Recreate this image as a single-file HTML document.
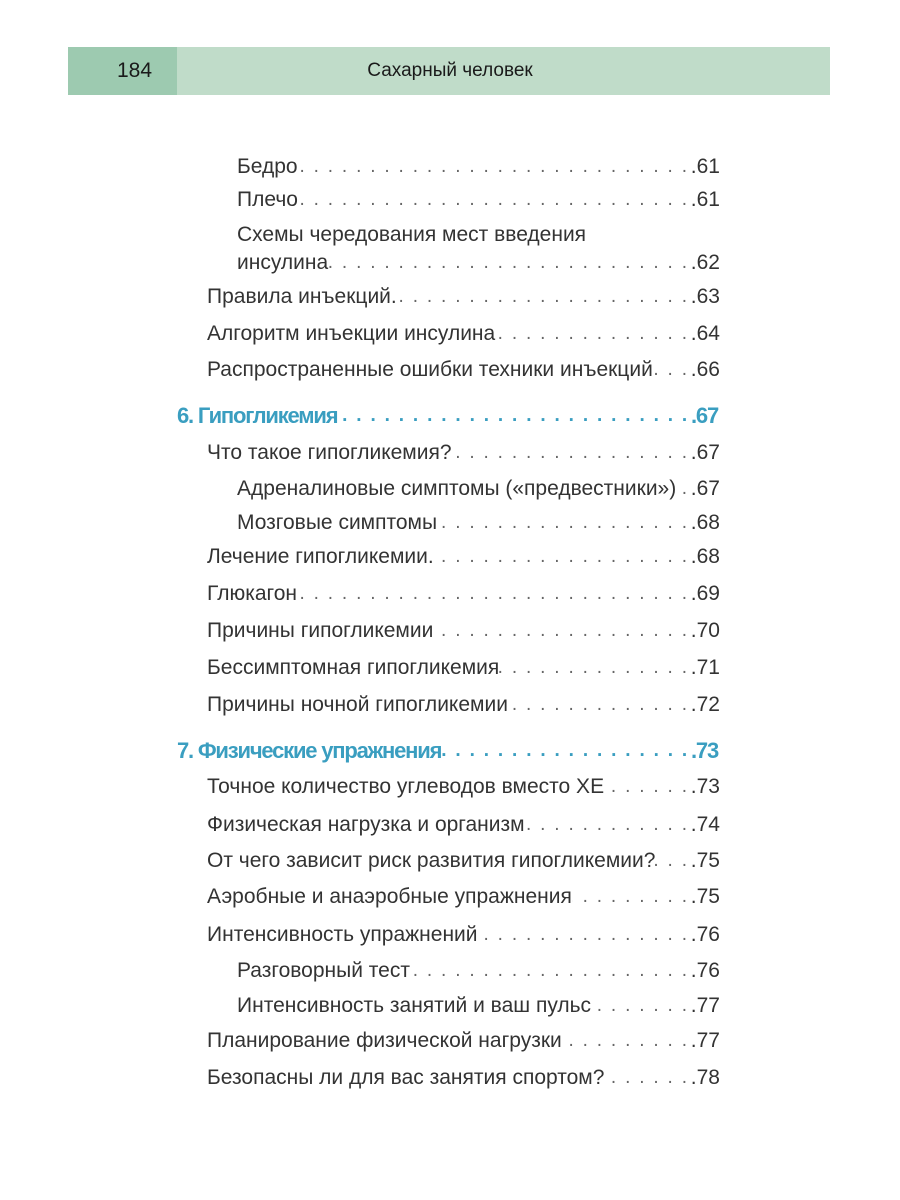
<!DOCTYPE html>
<html><head><meta charset="utf-8"><style>
body{margin:0;width:900px;height:1200px;background:#fff;position:relative;overflow:hidden;font-family:"Liberation Sans","DejaVu Sans",sans-serif;color:#333}
.bar{position:absolute;top:47px;left:68px;width:762px;height:48px;background:#c0dcc9}
.num{position:absolute;top:47px;left:68px;width:109px;height:48px;background:#9dcab0;font-size:21px;line-height:48px;text-align:center;color:#1a1a1a;padding-left:24px;box-sizing:border-box}
.title{position:absolute;top:47px;left:250px;width:400px;height:48px;line-height:48px;text-align:center;font-size:19px;color:#1a1a1a}
.r{position:absolute;height:30px;line-height:30px;display:flex;font-size:21px;white-space:nowrap;right:180px}
.r .l{flex:1;overflow:hidden;direction:rtl;text-align:left;letter-spacing:1.8px;color:#666;padding:0 2px;font-size:19px}
.h{font-weight:bold;color:#3a9ec0;font-size:22px;right:182px;letter-spacing:-1.2px}
.h .l{color:#3a9ec0;letter-spacing:1.8px}
</style></head><body>
<div class="bar"></div><div class="num">184</div><div class="title">Сахарный человек</div>
<div class="r" style="left:237px;top:152px"><span>Бедро</span><span class="l">. . . . . . . . . . . . . . . . . . . . . . . . . . . . . . . . . . . . . . . . .</span><span>.61</span></div>
<div class="r" style="left:237px;top:185px"><span>Плечо</span><span class="l">. . . . . . . . . . . . . . . . . . . . . . . . . . . . . . . . . . . . . . . . .</span><span>.61</span></div>
<div class="r" style="left:237px;top:220px"><span>Схемы чередования мест введения</span></div>
<div class="r" style="left:237px;top:248px"><span>инсулина</span><span class="l">. . . . . . . . . . . . . . . . . . . . . . . . . . . . . . . . . . . . . . . . .</span><span>.62</span></div>
<div class="r" style="left:207px;top:282px"><span>Правила инъекций.</span><span class="l">. . . . . . . . . . . . . . . . . . . . . . . . . . . . . . . . . . . . . . . . .</span><span>.63</span></div>
<div class="r" style="left:207px;top:319px"><span>Алгоритм инъекции инсулина</span><span class="l">. . . . . . . . . . . . . . . . . . . . . . . . . . . . . . . . . . . . . . . . .</span><span>.64</span></div>
<div class="r" style="left:207px;top:355px"><span>Распространенные ошибки техники инъекций</span><span class="l">. . . . . . . . . . . . . . . . . . . . . . . . . . . . . . . . . . . . . . . . .</span><span>.66</span></div>
<div class="r h" style="left:177px;top:401px"><span>6. Гипогликемия</span><span class="l">. . . . . . . . . . . . . . . . . . . . . . . . . . . . . . . . . . . . . . . . .</span><span>.67</span></div>
<div class="r" style="left:207px;top:438px"><span>Что такое гипогликемия?</span><span class="l">. . . . . . . . . . . . . . . . . . . . . . . . . . . . . . . . . . . . . . . . .</span><span>.67</span></div>
<div class="r" style="left:237px;top:474px"><span>Адреналиновые симптомы («предвестники»)</span><span class="l">. . . . . . . . . . . . . . . . . . . . . . . . . . . . . . . . . . . . . . . . .</span><span>.67</span></div>
<div class="r" style="left:237px;top:508px"><span>Мозговые симптомы</span><span class="l">. . . . . . . . . . . . . . . . . . . . . . . . . . . . . . . . . . . . . . . . .</span><span>.68</span></div>
<div class="r" style="left:207px;top:542px"><span>Лечение гипогликемии.</span><span class="l">. . . . . . . . . . . . . . . . . . . . . . . . . . . . . . . . . . . . . . . . .</span><span>.68</span></div>
<div class="r" style="left:207px;top:579px"><span>Глюкагон</span><span class="l">. . . . . . . . . . . . . . . . . . . . . . . . . . . . . . . . . . . . . . . . .</span><span>.69</span></div>
<div class="r" style="left:207px;top:616px"><span>Причины гипогликемии</span><span class="l">. . . . . . . . . . . . . . . . . . . . . . . . . . . . . . . . . . . . . . . . .</span><span>.70</span></div>
<div class="r" style="left:207px;top:653px"><span>Бессимптомная гипогликемия</span><span class="l">. . . . . . . . . . . . . . . . . . . . . . . . . . . . . . . . . . . . . . . . .</span><span>.71</span></div>
<div class="r" style="left:207px;top:690px"><span>Причины ночной гипогликемии</span><span class="l">. . . . . . . . . . . . . . . . . . . . . . . . . . . . . . . . . . . . . . . . .</span><span>.72</span></div>
<div class="r h" style="left:177px;top:736px"><span>7. Физические упражнения</span><span class="l">. . . . . . . . . . . . . . . . . . . . . . . . . . . . . . . . . . . . . . . . .</span><span>.73</span></div>
<div class="r" style="left:207px;top:772px"><span>Точное количество углеводов вместо ХЕ</span><span class="l">. . . . . . . . . . . . . . . . . . . . . . . . . . . . . . . . . . . . . . . . .</span><span>.73</span></div>
<div class="r" style="left:207px;top:810px"><span>Физическая нагрузка и организм</span><span class="l">. . . . . . . . . . . . . . . . . . . . . . . . . . . . . . . . . . . . . . . . .</span><span>.74</span></div>
<div class="r" style="left:207px;top:846px"><span>От чего зависит риск развития гипогликемии?</span><span class="l">. . . . . . . . . . . . . . . . . . . . . . . . . . . . . . . . . . . . . . . . .</span><span>.75</span></div>
<div class="r" style="left:207px;top:882px"><span>Аэробные и анаэробные упражнения</span><span class="l">. . . . . . . . . . . . . . . . . . . . . . . . . . . . . . . . . . . . . . . . .</span><span>.75</span></div>
<div class="r" style="left:207px;top:920px"><span>Интенсивность упражнений</span><span class="l">. . . . . . . . . . . . . . . . . . . . . . . . . . . . . . . . . . . . . . . . .</span><span>.76</span></div>
<div class="r" style="left:237px;top:956px"><span>Разговорный тест</span><span class="l">. . . . . . . . . . . . . . . . . . . . . . . . . . . . . . . . . . . . . . . . .</span><span>.76</span></div>
<div class="r" style="left:237px;top:991px"><span>Интенсивность занятий и ваш пульс</span><span class="l">. . . . . . . . . . . . . . . . . . . . . . . . . . . . . . . . . . . . . . . . .</span><span>.77</span></div>
<div class="r" style="left:207px;top:1026px"><span>Планирование физической нагрузки</span><span class="l">. . . . . . . . . . . . . . . . . . . . . . . . . . . . . . . . . . . . . . . . .</span><span>.77</span></div>
<div class="r" style="left:207px;top:1063px"><span>Безопасны ли для вас занятия спортом?</span><span class="l">. . . . . . . . . . . . . . . . . . . . . . . . . . . . . . . . . . . . . . . . .</span><span>.78</span></div>
</body></html>
